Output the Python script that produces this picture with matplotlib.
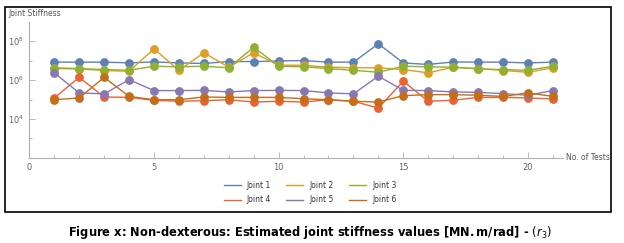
import numpy as np
import matplotlib.pyplot as plt
from matplotlib.patches import Rectangle

tests = list(range(1, 22))

# log10 of joint stiffness
joint1 = [6.92, 6.92, 6.92, 6.88, 6.93, 6.88, 6.85, 6.95, 6.95, 6.98, 7.00,
          6.92, 6.92, 7.86, 6.88, 6.80, 6.93, 6.92, 6.92, 6.88, 6.92]
joint2 = [6.59, 6.57, 6.49, 6.45, 7.60, 6.50, 7.40, 6.66, 7.40, 6.76, 6.76,
          6.66, 6.63, 6.63, 6.54, 6.37, 6.66, 6.59, 6.49, 6.40, 6.63]
joint3 = [6.63, 6.59, 6.54, 6.50, 6.71, 6.68, 6.71, 6.63, 7.69, 6.71, 6.68,
          6.59, 6.50, 6.40, 6.71, 6.68, 6.66, 6.57, 6.54, 6.50, 6.71]
joint4 = [5.08, 6.14, 5.13, 5.11, 4.96, 4.91, 4.94, 4.99, 4.87, 4.91, 4.87,
          4.99, 4.91, 4.56, 5.94, 4.91, 4.96, 5.11, 5.11, 5.08, 5.03]
joint5 = [6.37, 5.34, 5.29, 6.02, 5.46, 5.46, 5.47, 5.39, 5.46, 5.47, 5.46,
          5.34, 5.29, 6.20, 5.47, 5.46, 5.39, 5.37, 5.30, 5.22, 5.46]
joint6 = [4.99, 5.08, 6.14, 5.16, 4.99, 4.99, 5.13, 5.11, 5.11, 5.11, 5.04,
          4.99, 4.91, 4.87, 5.20, 5.25, 5.25, 5.22, 5.16, 5.34, 5.16]

labels = ["Joint 1", "Joint 2", "Joint 3", "Joint 4", "Joint 5", "Joint 6"]
colors = ["#5E81B5", "#E19C24", "#8FB032", "#EB6235", "#8778B3", "#C56E1A"]
series = [joint1, joint2, joint3, joint4, joint5, joint6]

fig = plt.figure(figsize=(6.24, 2.43), dpi=100)
ax = fig.add_axes([0.047, 0.350, 0.855, 0.561])

handles = []
for vals, lab, col in zip(series, labels, colors):
    ax.plot(tests, 10 ** np.array(vals), color=col, lw=1, marker="o",
            markersize=5.3, zorder=3)
    h, = ax.plot([], [], color=col, lw=1, label=lab)
    handles.append(h)

ax.set_yscale("log")
ax.set_ylim(1e2, 1e9)
ax.set_xlim(0, 21.4)
ax.set_yticks([1e4, 1e6, 1e8])
ax.set_yticks([1e3, 1e5, 1e7], minor=True)
ax.set_yticklabels([], minor=True)
ax.set_xticks([0, 5, 10, 15, 20])
ax.set_xticks(range(0, 22), minor=True)

for s in ["top", "right"]:
    ax.spines[s].set_visible(False)
for s in ["left", "bottom"]:
    ax.spines[s].set_color("#b0b0b0")
    ax.spines[s].set_linewidth(0.8)
ax.tick_params(which="both", direction="in", color="#b0b0b0", labelcolor="#666666",
               labelsize=6, width=0.6)
ax.tick_params(which="major", length=4)
ax.tick_params(which="minor", length=2)

fig.text(0.013, 0.945, "Joint Stiffness", fontsize=5.5, color="#555555",
         ha="left", va="center")
fig.text(0.907, 0.35, "No. of Tests", fontsize=5.5, color="#555555",
         ha="left", va="center")

order = [0, 3, 1, 4, 2, 5]
fig.legend([handles[i] for i in order], [labels[i] for i in order], ncol=3,
           loc="center", bbox_to_anchor=(0.497, 0.208), frameon=False,
           fontsize=5.5, handlelength=2.2, columnspacing=2.0,
           labelspacing=0.75, handletextpad=0.8, labelcolor="#333333")

fig.patches.append(Rectangle((0.008, 0.129), 0.971, 0.842, transform=fig.transFigure,
                             fill=False, edgecolor="black", lw=1.2))

fig.text(0.497, 0.042,
         r"Figure x: Non-dexterous: Estimated joint stiffness values $\mathbf{[MN.m/rad]}$ - $(r_3)$",
         fontsize=8.3, fontweight="bold", ha="center", va="center")

fig.savefig("out.png", dpi=100)
